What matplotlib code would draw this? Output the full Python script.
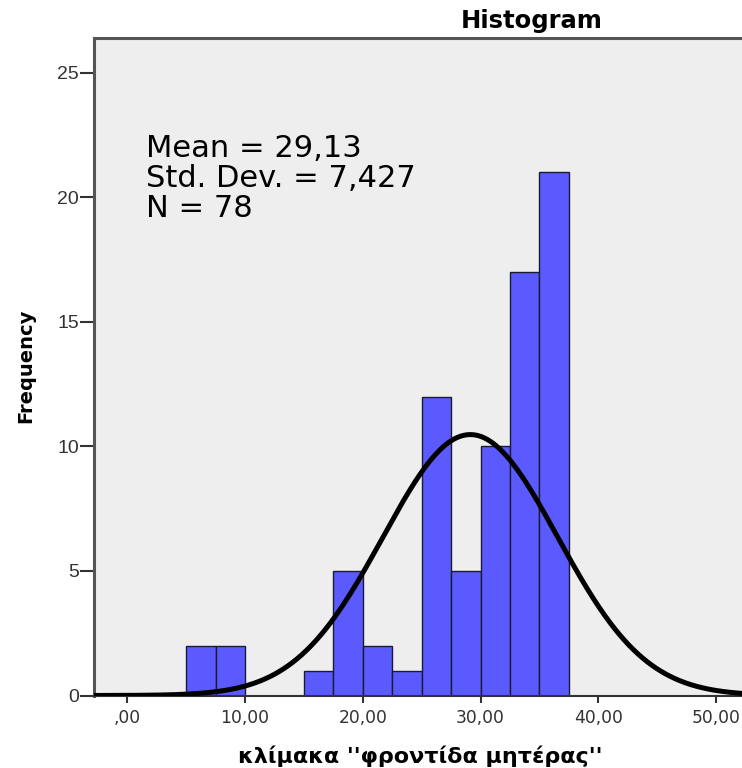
import numpy as np
import matplotlib
matplotlib.use("Agg")
import matplotlib.pyplot as plt

plt.rcParams['font.family'] = ['DejaVu Sans']

bin_edges = [5.0, 7.5, 10.0, 12.5, 15.0, 17.5, 20.0, 22.5, 25.0, 27.5, 30.0, 32.5, 35.0, 37.5]
counts = [2, 2, 0, 0, 1, 5, 2, 1, 12, 5, 10, 17, 21]
mean = 29.13
std = 7.427
n = 78
bin_width = 2.5
stats_lines = ["Mean = 29,13", "Std. Dev. = 7,427", "N = 78"]
x_ticks = [0, 10, 20, 30, 40, 50]
x_tick_labels = [",00", "10,00", "20,00", "30,00", "40,00", "50,00"]
y_ticks = [0, 5, 10, 15, 20, 25]

W, H = 742, 768
fig = plt.figure(figsize=(W/100, H/100), dpi=100)
left, right, top, bottom = 94.3, 742, 38, 695.5
ax = fig.add_axes([left/W, 1 - bottom/H, (right-left)/W, (bottom-top)/H])
ax.set_facecolor('#eeeeee')

ax.hist(np.array(bin_edges[:-1]) + bin_width/2, bins=bin_edges, weights=counts,
        color='#5a5aff', edgecolor='#1a1a33', linewidth=1.0, zorder=2)

xs = np.linspace(-3, 60, 800)
ys = n * bin_width / (std * np.sqrt(2*np.pi)) * np.exp(-0.5*((xs-mean)/std)**2)
ax.plot(xs, ys, color='black', linewidth=3.6, zorder=3, solid_capstyle='butt')

ax.set_xlim(-2.8, 52.2)
ax.set_ylim(0, (bottom-top)/24.91)
ax.set_xticks(x_ticks)
ax.set_xticklabels(x_tick_labels, fontsize=12.3, color='#333333')
ax.set_yticks(y_ticks)
ax.set_yticklabels([str(v) for v in y_ticks], fontsize=14, color='#333333',
                   family=['Liberation Sans', 'DejaVu Sans'])
ax.tick_params(axis='x', direction='out', length=5, width=1.5, color='#333333', pad=5)
ax.tick_params(axis='y', direction='out', length=10, width=1.5, color='#333333', pad=1)
ax.spines['right'].set_visible(False)
for s in ['left', 'top']:
    ax.spines[s].set_color('#555555')
    ax.spines[s].set_linewidth(2.2)
ax.spines['bottom'].set_color('#333333')
ax.spines['bottom'].set_linewidth(1.5)

baselines = [157, 187, 217]
for line, yb in zip(stats_lines, baselines):
    fig.text(146.5/W, 1 - yb/H, line, fontsize=22, va='baseline', ha='left')

fig.text(532/W, 1 - 28/H, "Histogram", fontsize=17.5, fontweight='bold', ha='center', va='baseline')
fig.text(26/W, 1 - 366/H, "Frequency", fontsize=14, fontweight='bold', ha='center', va='center', rotation=90)
fig.text(420/W, 1 - 763/H, "κλίμακα ''φροντίδα μητέρας''", fontsize=16, fontweight='bold',
         ha='center', va='baseline')

fig.savefig('out.png', dpi=100)
